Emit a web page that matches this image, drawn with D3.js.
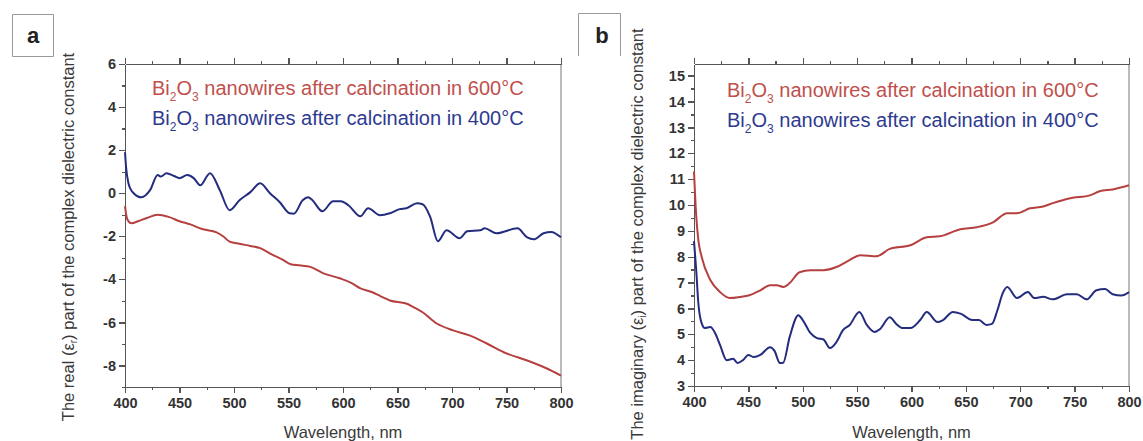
<!DOCTYPE html>
<html>
<head>
<meta charset="utf-8">
<title>Bi2O3 dielectric constant</title>
<style>
  body { margin: 0; background: #fff; font-family: Arial, "Liberation Sans", sans-serif; }
  .axis path, .axis line { stroke: #555; stroke-width: 1.3; shape-rendering: crispEdges; }
  .axis text { font-family: Arial, "Liberation Sans", sans-serif; font-size: 14.5px; font-weight: bold; fill: #333; }
  .frame { fill: none; stroke: #777; stroke-width: 1; }
  .ylab, .xlab { font-family: Arial, "Liberation Sans", sans-serif; fill: #3a3a3a; }
  .legend { font-family: Arial, "Liberation Sans", sans-serif; font-size: 20px; }
</style>
</head>
<body>
<svg width="1143" height="441"></svg>
<script src="https://cdn.jsdelivr.net/npm/d3@7"></script>
<script>

// x ticks
var xTicks = [400, 450, 500, 550, 600, 650, 700, 750, 800];
var aTicks = [6, 4, 2, 0, -2, -4, -6, -8];
var bTicks = [3, 4, 5, 6, 7, 8, 9, 10, 11, 12, 13, 14, 15];

var legendLabels = ["600°C", "400°C"];

// panel a: real part, calcination 600°C
var a600 = [[400,-0.6],[402,-1.2],[406,-1.4],[412,-1.3],[420,-1.15],[430,-1.0],[440,-1.1],[450,-1.3],
  [460,-1.45],[470,-1.65],[476,-1.72],[484,-1.82],[490,-2.0],[496,-2.25],[505,-2.35],[515,-2.45],
  [524,-2.55],[535,-2.85],[545,-3.1],[552,-3.3],[560,-3.35],[570,-3.42],[582,-3.72],[597,-3.95],
  [607,-4.15],[616,-4.42],[627,-4.6],[635,-4.8],[643,-4.98],[658,-5.12],[665,-5.3],[673,-5.53],
  [686,-6.05],[701,-6.37],[716,-6.6],[732,-6.98],[750,-7.44],[769,-7.77],[787,-8.14],[800,-8.47]];

// panel a: real part, calcination 400°C
var a400 = [[400,1.9],[401,1.2],[403,0.5],[405,0.2],[408,0.0],[415,-0.19],[423,0.14],[430,0.84],
  [433,0.77],[438,0.93],[445,0.8],[450,0.7],[457,0.84],[463,0.7],[469,0.37],[478,0.93],[487,0.14],
  [496,-0.79],[505,-0.33],[515,0.05],[524,0.46],[533,0.0],[542,-0.42],[551,-0.93],[555,-0.95],
  [563,-0.33],[568,-0.19],[572,-0.33],[581,-0.84],[591,-0.37],[598,-0.37],[605,-0.56],[616,-1.07],
  [623,-0.7],[634,-1.02],[643,-0.93],[652,-0.74],[658,-0.7],[668,-0.47],[673,-0.51],[680,-1.1],
  [687,-2.23],[695,-1.72],[707,-2.09],[714,-1.77],[726,-1.72],[730,-1.63],[741,-1.86],[760,-1.63],
  [769,-2.05],[775,-2.14],[784,-1.86],[791,-1.8],[800,-2.05]];

// panel b: imaginary part, calcination 600°C
var b600 = [[400,11.3],[402,9.6],[404,8.64],[407,8.0],[415,7.1],[424,6.63],[433,6.4],[442,6.44],
  [451,6.51],[461,6.7],[470,6.9],[476,6.9],[482,6.83],[488,6.98],[497,7.4],[507,7.48],[519,7.48],
  [531,7.6],[543,7.87],[553,8.06],[568,8.02],[580,8.3],[599,8.44],[614,8.75],[626,8.79],[645,9.06],
  [660,9.14],[675,9.33],[688,9.68],[697,9.68],[709,9.87],[721,9.94],[730,10.07],[746,10.26],
  [764,10.37],[773,10.53],[785,10.6],[800,10.76]];

// panel b: imaginary part, calcination 400°C
var b400 = [[400,8.6],[402,7.5],[404,6.2],[407,5.43],[410,5.24],[415,5.28],[419,5.08],[424,4.58],
  [430,4.0],[436,4.05],[440,3.89],[445,4.0],[450,4.2],[455,4.12],[461,4.2],[470,4.5],[474,4.36],
  [479,3.89],[482,3.9],[488,4.9],[496,5.74],[500,5.55],[507,5.05],[513,4.85],[519,4.8],[525,4.47],
  [531,4.7],[537,5.16],[543,5.35],[552,5.86],[559,5.36],[566,5.09],[571,5.2],[580,5.66],[586,5.4],
  [592,5.24],[599,5.24],[608,5.55],[614,5.86],[624,5.47],[629,5.55],[638,5.86],[645,5.8],[656,5.55],
  [662,5.55],[669,5.36],[674,5.4],[679,5.93],[684,6.6],[688,6.83],[697,6.4],[707,6.63],[713,6.4],
  [721,6.45],[730,6.35],[743,6.55],[752,6.55],[761,6.35],[770,6.7],[778,6.75],[785,6.55],[793,6.5],
  [800,6.63]];

var red = "#b5403f", blue = "#232c7d";
var redText = "#c0504d", blueText = "#2e3a8f";

var svg = d3.select("svg");

function panel(opt) {
  var x = d3.scaleLinear().domain([400, 800]).range([opt.left, opt.right]);
  var y = d3.scaleLinear().domain(opt.yDomain).range([opt.bottom, opt.top]);
  var g = svg.append("g");

  var xMinor = d3.range(400, 801, 25);
  var yMinor = d3.range(opt.yDomain[0], opt.yDomain[1] + 0.001, opt.yMinorStep);

  // right edge
  g.append("line").attr("class", "frame")
    .attr("x1", opt.right).attr("x2", opt.right).attr("y1", opt.top).attr("y2", opt.bottom);

  // minor ticks
  g.append("g").attr("class", "axis").attr("transform", "translate(0," + opt.bottom + ")")
    .call(d3.axisBottom(x).tickValues(xMinor).tickSize(3).tickFormat("")).select(".domain").remove();
  g.append("g").attr("class", "axis").attr("transform", "translate(0," + opt.top + ")")
    .call(d3.axisTop(x).tickValues(xMinor).tickSize(3).tickFormat("")).select(".domain").remove();
  g.append("g").attr("class", "axis").attr("transform", "translate(" + opt.left + ",0)")
    .call(d3.axisLeft(y).tickValues(yMinor).tickSize(3).tickFormat("")).select(".domain").remove();

  // major axes
  g.append("g").attr("class", "axis").attr("transform", "translate(0," + opt.bottom + ")")
    .call(d3.axisBottom(x).tickValues(xTicks).tickSize(6).tickSizeOuter(0).tickPadding(5));
  g.append("g").attr("class", "axis").attr("transform", "translate(0," + opt.top + ")")
    .call(d3.axisTop(x).tickValues(xTicks).tickSize(6).tickSizeOuter(0).tickFormat(""));
  g.append("g").attr("class", "axis").attr("transform", "translate(" + opt.left + ",0)")
    .call(d3.axisLeft(y).tickValues(opt.yTicks).tickSize(6).tickSizeOuter(0).tickPadding(3)
      .tickFormat(function(d) { return d < 0 ? "-" + Math.abs(d) : d; }));

  var line = d3.line()
    .x(function(d) { return x(d[0]); })
    .y(function(d) { return y(d[1]); })
    .curve(d3.curveMonotoneX);

  opt.series.forEach(function(s) {
    g.append("path").datum(s.data)
      .attr("fill", "none").attr("stroke", s.color).attr("stroke-width", 2)
      .attr("stroke-linejoin", "round").attr("d", line);
  });

  // legend
  opt.series.forEach(function(s, i) {
    var t = g.append("text").attr("class", "legend")
      .attr("x", opt.legendX).attr("y", opt.legendY + i * 30).attr("fill", s.textColor);
    t.append("tspan").text("Bi");
    t.append("tspan").attr("font-size", "12px").attr("dy", 6).text("2");
    t.append("tspan").attr("dy", -6).text("O");
    t.append("tspan").attr("font-size", "12px").attr("dy", 6).text("3");
    t.append("tspan").attr("dy", -6).text(" nanowires after calcination in " + s.label);
  });

  // y label
  var yl = g.append("text").attr("class", "ylab")
    .attr("transform", "translate(" + opt.ylabX + "," + opt.ylabY + ") rotate(-90)")
    .attr("text-anchor", "middle").attr("font-size", "16.5px");
  yl.append("tspan").text("The " + opt.ylabWord + " (ε");
  yl.append("tspan").attr("font-size", "10px").attr("dy", 3).text(opt.ylabSub);
  yl.append("tspan").attr("dy", -3).text(") part of the complex dielectric constant");

  // x label
  g.append("text").attr("class", "xlab")
    .attr("x", (opt.left + opt.right) / 2).attr("y", 438)
    .attr("text-anchor", "middle").attr("font-size", "16.5px")
    .text("Wavelength, nm");

  // panel letter box
  g.append("path").attr("fill", "none").attr("stroke", "#999").attr("stroke-width", 1)
    .attr("d", opt.boxPath);
  g.append("text").attr("x", opt.letterX).attr("y", 43)
    .attr("text-anchor", "middle").attr("font-size", "22px").attr("font-weight", "bold")
    .attr("fill", "#222").text(opt.letter);
}

panel({
  left: 125, right: 561, top: 64, bottom: 387,
  yDomain: [-9, 6], yTicks: aTicks, yMinorStep: 1,
  series: [
    {data: a600, color: red, textColor: redText, label: legendLabels[0]},
    {data: a400, color: blue, textColor: blueText, label: legendLabels[1]}
  ],
  legendX: 152, legendY: 95,
  ylabX: 74, ylabY: 237, ylabWord: "real", ylabSub: "r",
  letter: "a", letterX: 33, boxPath: "M12.5,14.5H53.5V56.5H12.5Z"
});

panel({
  left: 694, right: 1129, top: 64, bottom: 386,
  yDomain: [3, 15.45], yTicks: bTicks, yMinorStep: 0.5,
  series: [
    {data: b600, color: red, textColor: redText, label: legendLabels[0]},
    {data: b400, color: blue, textColor: blueText, label: legendLabels[1]}
  ],
  legendX: 727, legendY: 97,
  ylabX: 643, ylabY: 234, ylabWord: "imaginary", ylabSub: "i",
  letter: "b", letterX: 602, boxPath: "M578.5,56V13.5H620.5V56"
});

</script>
</body>
</html>
